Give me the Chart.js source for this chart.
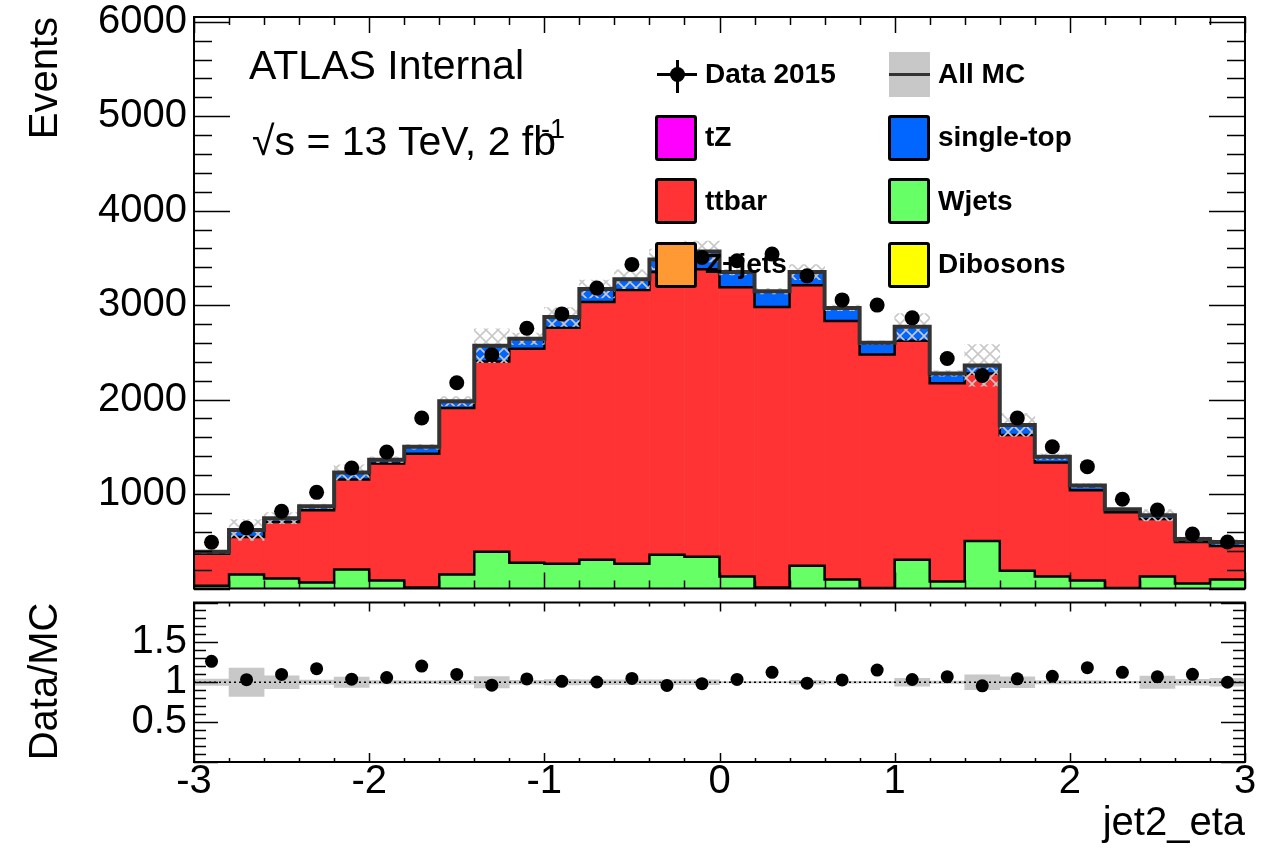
<!DOCTYPE html>
<html>
<head>
<meta charset="utf-8">
<script src="https://cdn.jsdelivr.net/npm/chart.js@4.4.1/dist/chart.umd.min.js"></script>
<style>
  html, body { margin: 0; padding: 0; background: #fff; }
  body { width: 1284px; height: 852px; position: relative; overflow: hidden;
         font-family: "Liberation Sans", Arial, Helvetica, sans-serif; color: #000; }
  canvas { position: absolute; left: 0; }
  #main { top: 0; }
  #ratio { top: 596px; }
  .txt { position: absolute; white-space: nowrap; line-height: 1; }
  .big { font-size: 41px; }
  .leg { position: absolute; white-space: nowrap; font-weight: bold; font-size: 28px; line-height: 1; }
  .box { position: absolute; width: 36px; height: 40px; border: 3px solid #000; border-radius: 3px; }
</style>
</head>
<body>
<canvas id="main" width="1284" height="596"></canvas>
<canvas id="ratio" width="1284" height="256"></canvas>

<div class="txt big" style="left:249px; top:45px;">ATLAS Internal</div>
<div class="txt big" style="left:252px; top:121px;">√s = 13 TeV, 2 fb<span style="font-size:27px; position:relative; top:-17px; margin-left:-15px;">-1</span></div>

<!-- legend -->
<div style="position:absolute; left:657px; top:73px; width:40px; height:3px; background:#000;"></div>
<div style="position:absolute; left:676px; top:60px; width:3px; height:33px; background:#000;"></div>
<div style="position:absolute; left:670px; top:67px; width:15px; height:15px; border-radius:50%; background:#000;"></div>
<div class="leg" style="left:705px; top:60px;">Data 2015</div>

<div style="position:absolute; left:889px; top:52px; width:41px; height:45px; background:#c8c8c8;"></div>
<div style="position:absolute; left:889px; top:73px; width:41px; height:3px; background:#333;"></div>
<div class="leg" style="left:938px; top:60px;">All MC</div>

<div class="box" style="left:655px; top:115px; background:#ff00ff;"></div>
<div class="leg" style="left:705px; top:123px;">tZ</div>
<div class="box" style="left:888px; top:115px; background:#0066ff;"></div>
<div class="leg" style="left:938px; top:123px;">single-top</div>

<div class="box" style="left:655px; top:178px; background:#ff3333;"></div>
<div class="leg" style="left:705px; top:187px;">ttbar</div>
<div class="box" style="left:888px; top:178px; background:#66ff66;"></div>
<div class="leg" style="left:938px; top:187px;">Wjets</div>

<div class="box" style="left:655px; top:242px; background:#ff9933;"></div>
<div class="leg" style="left:705px; top:250px;">Z+jets</div>
<div class="box" style="left:888px; top:242px; background:#ffff00;"></div>
<div class="leg" style="left:938px; top:250px;">Dibosons</div>

<script>
// jet2_eta bins, width 0.2
const binCenters = [-2.9, -2.7, -2.5, -2.3, -2.1, -1.9, -1.7, -1.5, -1.3, -1.1,
                    -0.9, -0.7, -0.5, -0.3, -0.1, 0.1, 0.3, 0.5, 0.7, 0.9,
                    1.1, 1.3, 1.5, 1.7, 1.9, 2.1, 2.3, 2.5, 2.7, 2.9];
const dataEvents = [490, 640, 818, 1018, 1275, 1445, 1805, 2178, 2475, 2755,
                    2907, 3180, 3431, 3345, 3505, 3470, 3540, 3310, 3055, 3000,
                    2865, 2435, 2255, 1805, 1500, 1290, 945, 830, 577, 493];
const wjets = [30, 147, 105, 63, 200, 84, 10, 147, 388, 273,
               262, 304, 262, 357, 336, 126, 10, 241, 94, 5,
               304, 73, 504, 189, 126, 84, 5, 126, 52, 94];
const ttbar = [337, 399, 598, 766, 954, 1238, 1417, 1763, 2015, 2266,
               2498, 2729, 2898, 2993, 3044, 3064, 2970, 2969, 2739, 2471,
               2319, 2099, 1773, 1437, 1207, 956, 803, 609, 441, 357];
const singleTop = [21, 74, 42, 41, 74, 42, 73, 73, 167, 105,
                   115, 137, 114, 134, 188, 160, 168, 140, 137, 126,
                   147, 105, 84, 105, 63, 51, 32, 41, 32, 42];
const mcErr = [15, 110, 60, 25, 80, 30, 25, 50, 180, 60,
               100, 95, 100, 110, 110, 30, 30, 80, 30, 20,
               140, 30, 220, 120, 30, 20, 10, 60, 20, 25];

const eventsTicks = [1000, 2000, 3000, 4000, 5000, 6000];
const ratioTicks = [0.5, 1, 1.5];
const etaTicks = [-3, -2, -1, 0, 1, 2, 3];

const FONT = '"Liberation Sans", Arial, Helvetica, sans-serif';

// cumulative stack: Wjets at the bottom, then ttbar, then single-top
const lowEdge = binCenters.map(c => +(c - 0.1).toFixed(2));
const redTop = wjets.map((w, i) => w + ttbar[i]);
const mcTotal = redTop.map((r, i) => r + singleTop[i]);
const ratio = dataEvents.map((d, i) => d / mcTotal[i]);

function steps(vals) {
  const pts = vals.map((v, i) => ({x: lowEdge[i], y: v}));
  pts.push({x: 3, y: vals[vals.length - 1]});
  return pts;
}
function floating(lo, hi) {
  return binCenters.map((c, i) => ({x: c, y: [lo[i], hi[i]]}));
}

function makeHatch() {
  const c = document.createElement('canvas');
  c.width = 12; c.height = 12;
  const g = c.getContext('2d');
  g.strokeStyle = '#c8c8c8';
  g.lineWidth = 1.6;
  g.beginPath();
  g.moveTo(-2, -2); g.lineTo(14, 14);
  g.moveTo(14, -2); g.lineTo(-2, 14);
  g.stroke();
  return g.createPattern(c, 'repeat');
}

// ROOT-like frame with inward ticks on all four sides
const rootFrame = {
  id: 'rootFrame',
  afterDraw(chart, args, o) {
    const {ctx, chartArea: a, scales: {x, y}} = chart;
    ctx.save();
    ctx.strokeStyle = '#000';
    ctx.lineWidth = 1.5;
    ctx.beginPath();
    const nx = Math.round((x.max - x.min) / o.xMinor);
    for (let i = 0; i <= nx; i++) {
      const v = x.min + i * o.xMinor;
      const px = Math.round(x.getPixelForValue(v)) + 0.5;
      const len = Math.abs(v - Math.round(v)) < 1e-6 ? o.xMajorLen : o.xMinorLen;
      ctx.moveTo(px, a.bottom); ctx.lineTo(px, a.bottom - len);
      ctx.moveTo(px, a.top); ctx.lineTo(px, a.top + len);
    }
    const ny = Math.floor((y.max - y.min) / o.yMinor + 1e-6);
    for (let i = 0; i <= ny; i++) {
      const v = y.min + i * o.yMinor;
      const py = Math.round(y.getPixelForValue(v)) + 0.5;
      const q = v / o.yMajor;
      const len = Math.abs(q - Math.round(q)) < 1e-6 ? o.yMajorLen : o.yMinorLen;
      ctx.moveTo(a.left, py); ctx.lineTo(a.left + len, py);
      ctx.moveTo(a.right, py); ctx.lineTo(a.right - len, py);
    }
    ctx.stroke();
    ctx.lineWidth = 2;
    ctx.strokeRect(a.left, a.top, a.right - a.left, a.bottom - a.top);
    ctx.restore();
  }
};

// fixed axis sizes so the plot frames land where they should
const fixY = s => { s.width = 194; s.paddingTop = 0; s.paddingBottom = 0; };
const fixX = h => s => { s.height = h; s.paddingLeft = 0; s.paddingRight = 0; };
const plain = v => String(v);

const barCommon = {type: 'bar', barPercentage: 1, categoryPercentage: 1, grouped: false,
                   borderWidth: 0, borderSkipped: false};
const stepCommon = {type: 'line', stepped: 'before', pointRadius: 0, fill: false, tension: 0};

new Chart(document.getElementById('main'), {
  type: 'bar',
  data: {
    datasets: [
      {type: 'line', data: binCenters.map((c, i) => ({x: c, y: dataEvents[i]})),
       showLine: false, pointRadius: 7.5, pointBackgroundColor: '#000', pointBorderWidth: 0},
      {...stepCommon, data: steps(mcTotal), borderColor: '#333333', borderWidth: 4},
      {...barCommon, data: floating(mcTotal.map((t, i) => t - mcErr[i]), mcTotal.map((t, i) => t + mcErr[i])),
       backgroundColor: makeHatch()},
      {...stepCommon, data: steps(redTop), borderColor: '#000', borderWidth: 2.5},
      {...stepCommon, data: steps(wjets), borderColor: '#000', borderWidth: 2.5},
      {...barCommon, data: floating(redTop, mcTotal), backgroundColor: '#0066ff'},
      {...barCommon, data: floating(wjets, redTop), backgroundColor: '#ff3333'},
      {...barCommon, data: floating(wjets.map(() => 0), wjets), backgroundColor: '#66ff66'}
    ]
  },
  options: {
    responsive: false,
    animation: false,
    events: [],
    layout: {padding: {left: 0, right: 39, top: 17, bottom: 3}},
    plugins: {
      legend: {display: false},
      tooltip: {enabled: false},
      rootFrame: {xMinor: 0.2, xMajorLen: 16, xMinorLen: 8,
                  yMinor: 200, yMajor: 1000, yMajorLen: 36, yMinorLen: 18}
    },
    scales: {
      x: {type: 'linear', min: -3, max: 3, offset: false, display: false,
          ticks: {stepSize: 1}},
      y: {type: 'linear', min: 0, max: 6050,
          grid: {display: false, drawTicks: false}, border: {display: false},
          afterBuildTicks: s => { s.ticks = eventsTicks.map(v => ({value: v})); },
          afterFit: fixY,
          ticks: {autoSkip: false, padding: 7, color: '#000', callback: plain,
                  font: {family: FONT, size: 40}},
          title: {display: true, text: 'Events', align: 'end', color: '#000',
                  font: {family: FONT, size: 40}, padding: {top: 22, bottom: 0}}}
    }
  },
  plugins: [rootFrame]
});

new Chart(document.getElementById('ratio'), {
  type: 'bar',
  data: {
    datasets: [
      {type: 'line', data: binCenters.map((c, i) => ({x: c, y: ratio[i]})),
       showLine: false, pointRadius: 6.5, pointBackgroundColor: '#000', pointBorderWidth: 0},
      {type: 'line', data: [{x: -3, y: 1}, {x: 3, y: 1}], pointRadius: 0,
       borderColor: '#000', borderWidth: 1.5, borderDash: [2, 3]},
      {...barCommon, data: floating(mcErr.map((e, i) => 1 - e / mcTotal[i]), mcErr.map((e, i) => 1 + e / mcTotal[i])),
       backgroundColor: '#c8c8c8'}
    ]
  },
  options: {
    responsive: false,
    animation: false,
    events: [],
    layout: {padding: {left: 0, right: 39, top: 2, bottom: 0}},
    plugins: {
      legend: {display: false},
      tooltip: {enabled: false},
      rootFrame: {xMinor: 0.2, xMajorLen: 9, xMinorLen: 4,
                  yMinor: 0.1, yMajor: 0.5, yMajorLen: 24, yMinorLen: 12}
    },
    scales: {
      x: {type: 'linear', min: -3, max: 3, offset: false,
          grid: {display: false, drawTicks: false}, border: {display: false},
          afterBuildTicks: s => { s.ticks = etaTicks.map(v => ({value: v})); },
          afterFit: fixX(90),
          ticks: {autoSkip: false, maxRotation: 0, padding: 0, color: '#000', callback: plain,
                  font: {family: FONT, size: 40, lineHeight: 1}},
          title: {display: true, text: 'jet2_eta', align: 'end', color: '#000',
                  font: {family: FONT, size: 40}, padding: {top: 0, bottom: 4}}},
      y: {type: 'linear', min: 0, max: 2,
          grid: {display: false, drawTicks: false}, border: {display: false},
          afterBuildTicks: s => { s.ticks = ratioTicks.map(v => ({value: v})); },
          afterFit: fixY,
          ticks: {autoSkip: false, padding: 7, color: '#000', callback: plain,
                  font: {family: FONT, size: 40}},
          title: {display: true, text: 'Data/MC', align: 'end', color: '#000',
                  font: {family: FONT, size: 40}, padding: {top: 22, bottom: 0}}}
    }
  },
  plugins: [rootFrame]
});
</script>
</body>
</html>
